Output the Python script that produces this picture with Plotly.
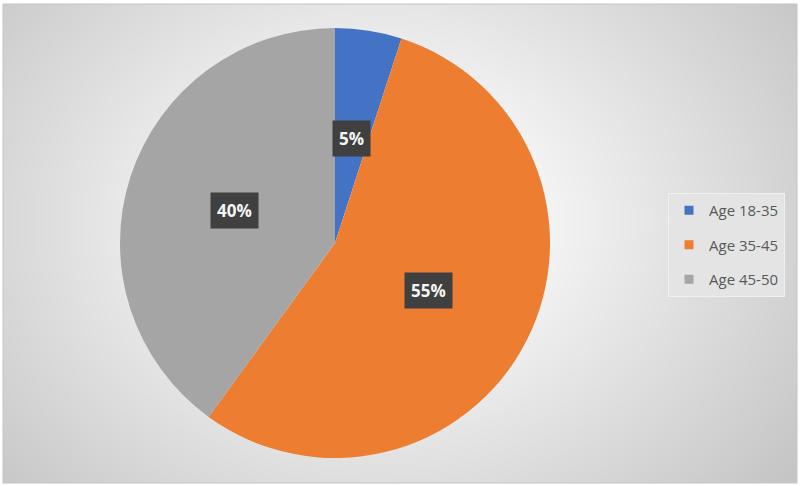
import base64
import math
import struct
import zlib

import plotly.graph_objects as go

# --- dados ---
categorias = ["Age 18-35", "Age 35-45", "Age 45-50"]
valores = [5, 55, 40]
cores = ["#4472C4", "#ED7D31", "#A5A5A5"]

W, H = 800, 486
CX, CY, R = 335, 243, 215  # centro e raio da pizza em px


def _gradient_png(w=200, h=122):
    """Gera um PNG simples com gradiente radial (fundo estilo Excel)."""
    rows = []
    gx, gy = 0.47 * w, 0.45 * h
    maxd = math.hypot(w * 0.55, h * 0.6)
    for j in range(h):
        row = bytearray([0])
        for i in range(w):
            d = math.hypot((i - gx), (j - gy) * 1.25) / maxd
            t = min(max((d - 0.15) / 0.85, 0), 1)
            v = int(round(255 - t * 58))
            row += bytes([v, v, v])
        rows.append(bytes(row))
    raw = b"".join(rows)

    def chunk(tag, data):
        c = tag + data
        return struct.pack(">I", len(data)) + c + struct.pack(">I", zlib.crc32(c) & 0xFFFFFFFF)

    png = b"\x89PNG\r\n\x1a\n"
    png += chunk(b"IHDR", struct.pack(">IIBBBBB", w, h, 8, 2, 0, 0, 0))
    png += chunk(b"IDAT", zlib.compress(raw, 9))
    png += chunk(b"IEND", b"")
    return "data:image/png;base64," + base64.b64encode(png).decode()


fig = go.Figure()
fig.add_trace(go.Pie(
    labels=categorias, values=valores, sort=False, direction="clockwise", rotation=0,
    marker=dict(colors=cores, line=dict(width=0)),
    textinfo="none", hoverinfo="label+percent", showlegend=False,
    domain=dict(x=[(CX - R) / W, (CX + R) / W], y=[1 - (CY + R) / H, 1 - (CY - R) / H]),
))

# legenda com traces "fantasma" para controlar o espaçamento
for i, (cat, cor) in enumerate(zip(categorias, cores)):
    fig.add_trace(go.Scatter(
        x=[None], y=[None], mode="markers", name=cat, legendgroup=str(i),
        marker=dict(symbol="square", size=9, color=cor),
    ))

# rótulos de porcentagem em caixas escuras
total = sum(valores)
acum = 0
for v in valores:
    meio = (acum + v / 2) / total * 2 * math.pi
    acum += v
    rr = 0.49 * R
    fig.add_annotation(
        x=(CX + rr * math.sin(meio)) / W, y=1 - (CY - rr * math.cos(meio)) / H,
        xref="paper", yref="paper", xanchor="center", yanchor="middle", showarrow=False,
        text=f"<b>{round(v / total * 100)}%</b>",
        font=dict(family="Open Sans", size=17, color="#f4f4f4"),
        bgcolor="#404040", borderpad=6,
    )

fig.add_layout_image(dict(
    source=_gradient_png(), xref="paper", yref="paper",
    x=3 / W, y=1 - 4 / H, sizex=794 / W, sizey=479 / H,
    sizing="stretch", layer="below", xanchor="left", yanchor="top",
))
fig.add_shape(type="rect", xref="paper", yref="paper",
              x0=3 / W, x1=797 / W, y0=1 - 483 / H, y1=1 - 4 / H,
              line=dict(color="#c4c4c4", width=1), layer="below")

fig.update_layout(
    width=W, height=H, margin=dict(l=0, r=0, t=0, b=0),
    paper_bgcolor="white", plot_bgcolor="rgba(0,0,0,0)",
    xaxis=dict(visible=False), yaxis=dict(visible=False),
    legend=dict(
        x=668 / W, y=1 - 245 / H, xanchor="left", yanchor="middle",
        bgcolor="#e4e4e4", bordercolor="#f0f0f0", borderwidth=1,
        font=dict(family="Open Sans", size=15, color="#595959"),
        tracegroupgap=12, itemwidth=30,
    ),
)

fig.write_html("out.html", config={"displayModeBar": False},
               post_script="document.body.style.margin='0';")
